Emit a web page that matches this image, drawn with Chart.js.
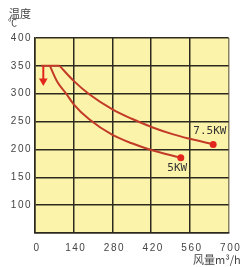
<!DOCTYPE html>
<html>
<head>
<meta charset="utf-8">
<script src="https://cdn.jsdelivr.net/npm/chart.js@4"></script>
<style>
  html, body { margin: 0; padding: 0; background: #fff; }
  #wrap { width: 246px; height: 267px; }
</style>
</head>
<body>
<div id="wrap"><canvas id="fanChart"></canvas></div>
<script>
// Values
const flow5 = [54, 80, 113, 140, 196, 280, 350, 420, 527];
const temp5 = [350, 322, 300, 281, 254, 226, 211, 199, 185];
const flow75 = [89, 140, 196, 280, 350, 428, 500, 560, 644];
const temp75 = [350, 323, 299, 272, 255, 239, 227, 219, 209];
const startFlow = [22, 89];
const startTemp = [350, 350];
const arrowFlow = [30, 30];
const arrowTemp = [350, 323];
const seriesNames = ['5KW', '7.5KW'];

const curveRed = '#c23a28';
const dotRed = '#e2261d';

function toPoints(xs, ys) {
    return xs.map((x, i) => ({ x: x, y: ys[i] }));
}
function endDot(n, r) {
    return Array.from({ length: n }, (_, i) => (i === n - 1 ? r : 0));
}

// yellow plot background
const plotBg = {
    id: 'plotBg',
    beforeDraw(chart) {
        const { ctx, chartArea: a } = chart;
        ctx.save();
        ctx.fillStyle = '#fcf3aa';
        ctx.fillRect(a.left, a.top, a.right - a.left, a.bottom - a.top);
        ctx.restore();
        ctx.letterSpacing = '1.5px';
    },
    afterDraw(chart) {
        chart.ctx.letterSpacing = '0px';
    }
};

// series names and axis titles
const textLabels = {
    id: 'textLabels',
    afterDatasetsDraw(chart) {
        const { ctx, scales: { x, y } } = chart;
        ctx.save();
        ctx.letterSpacing = '0px';
        ctx.fillStyle = '#333';
        ctx.textAlign = 'center';
        ctx.textBaseline = 'middle';
        ctx.font = '11px "DejaVu Sans Mono"';
        ctx.fillText(seriesNames[1], x.getPixelForValue(632), y.getPixelForValue(232));
        ctx.fillText(seriesNames[0], x.getPixelForValue(514), y.getPixelForValue(167));

        ctx.fillStyle = '#444';
        ctx.textAlign = 'left';
        ctx.font = '11px "Noto Sans CJK SC"';
        ctx.fillText('温度', 9, 14);
        ctx.font = '9px "Noto Sans CJK SC"';
        ctx.fillText('℃', 8, 23);
        ctx.font = '11px "Noto Sans CJK SC"';
        ctx.fillText('风量m³/h', 193, 260);
        ctx.restore();
    }
};

const config = {
    type: 'line',
    data: {
        datasets: [
            {
                data: toPoints(startFlow, startTemp),
                borderColor: curveRed,
                borderWidth: 2,
                pointRadius: 0
            },
            {
                data: toPoints(flow5, temp5),
                borderColor: curveRed,
                borderWidth: 2,
                cubicInterpolationMode: 'monotone',
                pointRadius: endDot(flow5.length, 3.5),
                pointBackgroundColor: dotRed,
                pointBorderWidth: 0
            },
            {
                data: toPoints(flow75, temp75),
                borderColor: curveRed,
                borderWidth: 2,
                cubicInterpolationMode: 'monotone',
                pointRadius: endDot(flow75.length, 3.5),
                pointBackgroundColor: dotRed,
                pointBorderWidth: 0
            },
            {
                data: toPoints(arrowFlow, arrowTemp),
                borderColor: dotRed,
                borderWidth: 2,
                pointStyle: 'triangle',
                pointRotation: 180,
                pointRadius: [0, 5],
                pointBackgroundColor: dotRed,
                pointBorderWidth: 0
            }
        ]
    },
    options: {
        responsive: true,
        maintainAspectRatio: false,
        animation: false,
        layout: { padding: { top: 38, right: 15, left: 0, bottom: 0 } },
        plugins: {
            legend: { display: false },
            tooltip: { enabled: false }
        },
        scales: {
            x: {
                type: 'linear',
                min: 0,
                max: 700,
                afterFit(s) { s.height = 34; },
                ticks: {
                    stepSize: 140,
                    padding: 9,
                    labelOffset: 2,
                    color: '#444',
                    font: { family: '"Liberation Sans"', size: 10 }
                },
                grid: {
                    drawTicks: false,
                    lineWidth: 1.5,
                    color: (c) => (c.tick && c.tick.value === 700 ? '#8a8264' : '#2c2a1e')
                },
                border: { color: '#2c2a1e', width: 1.5 }
            },
            y: {
                min: 50,
                max: 400,
                afterFit(s) { s.width = 35; },
                ticks: {
                    stepSize: 50,
                    padding: 3,
                    color: '#444',
                    font: { family: '"Liberation Sans"', size: 10 },
                    callback: (v) => (v === 50 ? '' : v)
                },
                grid: {
                    drawTicks: false,
                    lineWidth: 1.5,
                    color: '#2c2a1e'
                },
                border: { color: '#2c2a1e', width: 1.5 }
            }
        }
    },
    plugins: [plotBg, textLabels]
};

const fanChart = new Chart(document.getElementById('fanChart'), config);
</script>
</body>
</html>
